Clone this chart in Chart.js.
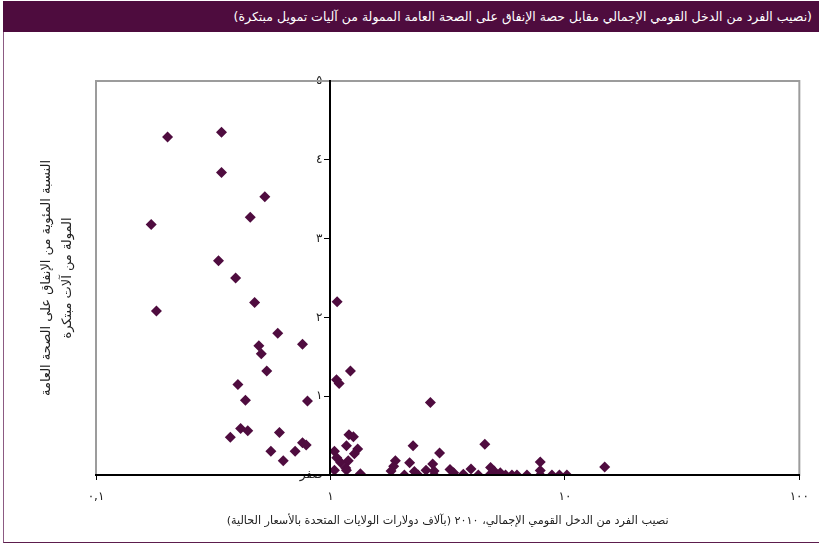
<!DOCTYPE html>
<html lang="ar">
<head>
<meta charset="utf-8">
<title>نصيب الفرد من الدخل القومي الإجمالي</title>
<script src="https://cdn.jsdelivr.net/npm/chart.js@4"></script>
<style>
  html, body { margin: 0; padding: 0; background: #fff; }
  #wrap { position: relative; width: 819px; height: 545px; overflow: hidden; }
  #frame { position: absolute; left: 3px; top: 1px; right: 0; bottom: 2px;
           border-left: 1px solid #8c5a82; border-bottom: 1px solid #5c1d4d; }
  #bar { position: absolute; left: 3px; top: 1px; right: 0; height: 31px;
         background: #4e0c3e; color: #fff; font: 12.5px "DejaVu Sans", sans-serif;
         text-align: right; direction: rtl; line-height: 31px; padding-right: 7px;
         white-space: nowrap; }
  canvas { position: absolute; left: 0; top: 0; direction: rtl; }
</style>
</head>
<body>
<div id="wrap">
  <canvas id="chart" width="819" height="545"></canvas>
  <div id="frame"></div>
  <div id="bar"></div>
</div>
<script>
// Heading and axis titles
const chartTitle = '(نصيب الفرد من الدخل القومي الإجمالي مقابل حصة الإنفاق على الصحة العامة الممولة من آليات تمويل مبتكرة)';
const xTitle = 'نصيب الفرد من الدخل القومي الإجمالي، ٢٠١٠ (بآلاف دولارات الولايات المتحدة بالأسعار الحالية)';
const yTitleLines = ['النسبة المئوية من الإنفاق على الصحة العامة', 'المولة من آلات مبتكرة'];

// Tick positions and labels
const xTicks = [0.1, 1, 10, 100];
const xTickLabels = ['٠,١', '١', '١٠', '١٠٠'];
const yTickLabels = ['صفر', '١', '٢', '٣', '٤', '٥'];

// GNI per capita (thousand US$) for each country
const gniPerCapita = [
  0.202, 0.343, 0.343, 0.525, 0.455, 0.172, 0.333, 0.394, 0.475, 0.181,
  0.596, 0.760, 0.495, 0.507, 0.535, 0.403, 0.434, 0.798, 0.414, 0.444,
  0.374, 0.606, 0.760, 0.788, 0.557, 0.707, 0.629,
  1.068, 1.217, 1.061, 1.089, 2.668, 1.199, 1.253, 1.170, 1.307, 1.040,
  1.064, 1.106, 1.191, 1.162, 1.040, 1.342, 2.251, 2.920, 4.554, 1.892,
  1.861, 1.814, 2.177, 2.067, 2.280, 2.364, 2.557, 2.729, 2.767, 2.767,
  3.236, 3.353, 3.687, 3.977, 4.272, 4.820, 4.984, 4.773, 5.302, 5.585,
  5.946, 6.246, 6.889, 7.849, 7.849, 7.849, 8.805, 9.478, 10.20, 14.78,
  1.265, 1.170
];

// Share of public health spending financed by innovative mechanisms (%)
const innovativeShare = [
  4.29, 4.35, 3.84, 3.53, 3.27, 3.18, 2.72, 2.50, 2.19, 2.08,
  1.80, 1.66, 1.64, 1.54, 1.32, 1.15, 0.95, 0.94, 0.59, 0.56,
  0.48, 0.54, 0.41, 0.38, 0.30, 0.30, 0.18,
  2.20, 1.32, 1.21, 1.16, 0.92, 0.51, 0.485, 0.37, 0.33, 0.30,
  0.22, 0.16, 0.18, 0.09, 0.06, 0.015, 0.37, 0.28, 0.39, 0.18,
  0.11, 0.05, 0.155, 0.0, 0.045, 0.0, 0.06, 0.14, 0.05, 0.0,
  0.07, 0.03, 0.01, 0.076, 0.0, 0.095, 0.05, 0.0, 0.03, 0.0,
  0.0, 0.0, 0.0, 0.165, 0.057, 0.0, 0.0, 0.0, 0.0, 0.10,
  0.27, 0.06
];

document.getElementById('bar').textContent = chartTitle;

const points = gniPerCapita.map((x, i) => ({ x: x, y: innovativeShare[i] }));

// Grey box around the plotting area
const plotFrame = {
  id: 'plotFrame',
  beforeDatasetsDraw(chart) {
    const a = chart.chartArea;
    const ctx = chart.ctx;
    ctx.save();
    ctx.strokeStyle = '#9c9c9c';
    ctx.lineWidth = 2;
    ctx.strokeRect(a.left, a.top, a.right - a.left, a.bottom - a.top);
    ctx.restore();
  }
};

const tickFont = { family: 'DejaVu Sans', size: 12 };

new Chart(document.getElementById('chart'), {
  type: 'scatter',
  data: {
    datasets: [{
      data: points,
      pointStyle: 'rectRot',
      pointRadius: 5.5,
      pointHoverRadius: 5.5,
      backgroundColor: '#4f0c3f',
      borderWidth: 0,
      clip: { left: 8, top: 8, right: 8, bottom: 0 }
    }]
  },
  options: {
    responsive: false,
    animation: false,
    devicePixelRatio: 1,
    layout: { padding: { top: 81, right: 19, bottom: 0, left: 0 } },
    plugins: { legend: { display: false }, tooltip: { enabled: false } },
    scales: {
      x: {
        type: 'logarithmic',
        position: 'bottom',
        min: 0.1,
        max: 100,
        afterBuildTicks(scale) {
          scale.ticks = xTicks.map(v => ({ value: v }));
        },
        afterFit(scale) { scale.height = 70; },
        ticks: {
          autoSkip: false,
          maxRotation: 0,
          padding: 10,
          color: '#222',
          font: tickFont,
          callback: (v) => xTickLabels[xTicks.indexOf(v)]
        },
        grid: { drawOnChartArea: false, drawTicks: true, tickLength: 5, color: '#000' },
        border: { color: '#000', width: 2, z: 1 },
        title: {
          display: true,
          text: xTitle,
          color: '#222',
          font: { family: 'DejaVu Sans', size: 11.2 },
          padding: { top: 0, bottom: 17 }
        }
      },
      // vertical axis line and tick marks, crossing the x axis at 1
      y: {
        type: 'linear',
        position: { x: 1 },
        min: 0,
        max: 5,
        ticks: { stepSize: 1, display: false },
        grid: { drawOnChartArea: false, drawTicks: true, tickLength: 5, color: '#000' },
        border: { color: '#000', width: 2, z: 1 }
      },
      // tick labels of the vertical axis, set just left of the tick marks
      yLabels: {
        axis: 'y',
        type: 'linear',
        position: { x: 0.925 },
        min: 0,
        max: 5,
        ticks: {
          stepSize: 1,
          color: '#222',
          font: tickFont,
          callback: (v) => yTickLabels[v]
        },
        grid: { display: false, drawTicks: false },
        border: { display: false }
      },
      yTitle: {
        axis: 'y',
        type: 'linear',
        position: 'left',
        min: 0,
        max: 5,
        afterFit(scale) { scale.width = 96; },
        ticks: { display: false },
        grid: { display: false, drawTicks: false },
        border: { display: false },
        title: {
          display: true,
          text: yTitleLines,
          color: '#222',
          font: { family: 'DejaVu Sans', size: 13, lineHeight: 1.6 },
          padding: { top: 36, bottom: 0 }
        }
      }
    }
  },
  plugins: [plotFrame]
});
</script>
</body>
</html>
